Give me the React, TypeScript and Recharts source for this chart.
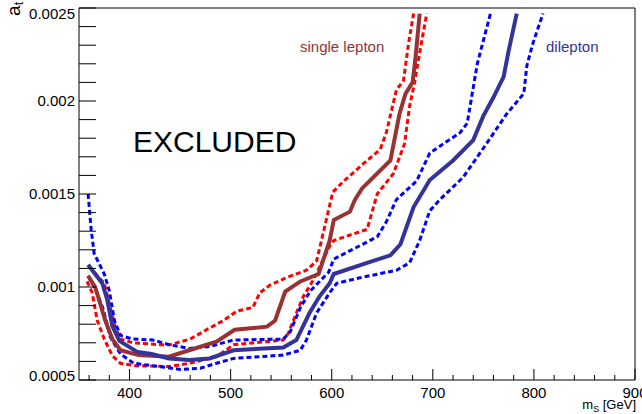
import { LineChart, Line, XAxis, YAxis, ReferenceArea } from "recharts";

// limit curves: [m_S (GeV), a_t]
const singleLeptonObs = [
  [359, 0.00106], [366, 0.001], [371, 0.00091], [376, 0.00082], [383, 0.00072], [391, 0.00066],
  [409, 0.000634], [439, 0.000625], [459, 0.00066], [486, 0.000706], [504, 0.00077], [536, 0.000787],
  [544, 0.00082], [554, 0.000975], [569, 0.00103], [587, 0.00107], [598, 0.00125], [602, 0.00136],
  [618, 0.001405], [623, 0.00147], [630, 0.00153], [658, 0.00168], [667, 0.00193], [673, 0.00204],
  [680, 0.0021], [683, 0.00224], [687, 0.00247],
];
const singleLeptonUp = [
  [360, 0.00111], [375, 0.00102], [381, 0.00089], [386, 0.00078], [391, 0.00072], [403, 0.0007],
  [430, 0.00069], [440, 0.00069], [460, 0.00072], [476, 0.00077], [493, 0.00082], [506, 0.00087],
  [522, 0.00089], [529, 0.00097], [539, 0.00101], [555, 0.00105], [575, 0.00109], [585, 0.00114],
  [592, 0.0013], [601, 0.00151], [612, 0.00157], [635, 0.00168], [648, 0.00174], [654, 0.00183],
  [664, 0.00206], [671, 0.00211], [676, 0.00231], [681, 0.00247],
];
const singleLeptonDown = [
  [358, 0.00103], [363, 0.00097], [368, 0.00082], [375, 0.00072], [383, 0.00063], [391, 0.00059],
  [406, 0.000577], [439, 0.000572], [459, 0.00059], [486, 0.000625], [503, 0.00069], [536, 0.000706],
  [552, 0.000715], [557, 0.00075], [565, 0.00086], [572, 0.00095], [582, 0.00104], [598, 0.00122],
  [602, 0.00125], [635, 0.00131], [645, 0.0015], [661, 0.00161], [672, 0.00177], [677, 0.00197],
  [682, 0.0021], [687, 0.00226], [694, 0.00247],
];
const dileptonObs = [
  [359, 0.00112], [373, 0.00102], [378, 0.00093], [383, 0.00079], [390, 0.00071], [408, 0.00065],
  [422, 0.00064], [439, 0.000616], [459, 0.000608], [479, 0.000616], [503, 0.00066], [552, 0.000675],
  [565, 0.000715], [578, 0.00086], [588, 0.00095], [598, 0.00102], [602, 0.00107], [635, 0.00113],
  [658, 0.00117], [668, 0.00123], [681, 0.00143], [697, 0.001575], [720, 0.00168], [740, 0.00179],
  [750, 0.00192], [760, 0.00202], [770, 0.00213], [775, 0.00227], [783, 0.00247],
];
const dileptonUp = [
  [359, 0.0015], [362, 0.00131], [365, 0.00118], [375, 0.00107], [380, 0.00098], [385, 0.00082],
  [391, 0.00074], [403, 0.00072], [423, 0.000715], [439, 0.00069], [459, 0.00067], [479, 0.00068],
  [503, 0.000715], [552, 0.00072], [559, 0.00076], [569, 0.00089], [579, 0.00098], [597, 0.00108],
  [602, 0.00115], [645, 0.00127], [654, 0.00135], [664, 0.00147], [684, 0.00157], [697, 0.00172],
  [727, 0.00183], [734, 0.00188], [744, 0.0022], [757, 0.00247],
];
const dileptonDown = [
  [359, 0.00106], [367, 0.00098], [374, 0.00088], [381, 0.00073], [391, 0.00064], [404, 0.00059],
  [430, 0.000572], [450, 0.000557], [470, 0.000563], [486, 0.00059], [503, 0.000616], [552, 0.000634],
  [569, 0.00066], [575, 0.000715], [585, 0.00086], [598, 0.00097], [605, 0.00102], [628, 0.00105],
  [664, 0.00109], [677, 0.00113], [687, 0.00125], [697, 0.00141], [707, 0.00147], [730, 0.00159],
  [753, 0.00177], [773, 0.00193], [790, 0.00204], [793, 0.00219], [799, 0.00231], [809, 0.00247],
];

const xTicks = [
  360, 380, 400, 420, 440, 460, 480, 500, 520, 540, 560, 580, 600, 620, 640, 660, 680, 700,
  720, 740, 760, 780, 800, 820, 840, 860, 880, 900,
];
const xLabels = [400, 500, 600, 700, 800, 900];
const yTicks = [
  0.0005, 0.0006, 0.0007, 0.0008, 0.0009, 0.001, 0.0011, 0.0012, 0.0013, 0.0014, 0.0015,
  0.0016, 0.0017, 0.0018, 0.0019, 0.002, 0.0021, 0.0022, 0.0023, 0.0024, 0.0025,
];
const yLabels = ["0.0005", "0.001", "0.0015", "0.002", "0.0025"];

const FONT = "'Liberation Sans', Arial, Helvetica, sans-serif";
const BROWN = "#993333";
const NAVY = "#333399";

const toPoints = (arr: number[][]) => arr.map(([x, y]) => ({ x, y }));

// eslint-disable-next-line @typescript-eslint/no-explicit-any
function XTick({ x, y, payload }: any) {
  const v = payload.value;
  const major = xLabels.includes(v);
  return (
    <g>
      <line x1={x} x2={x} y1={y} y2={y - (major ? 11 : 5)} stroke="#000" strokeWidth={1} />
      {major && (
        <text x={x} y={y + 18} textAnchor="middle" fontSize={15} fontFamily={FONT} fill="#000">
          {v}
        </text>
      )}
    </g>
  );
}

// eslint-disable-next-line @typescript-eslint/no-explicit-any
function YTick({ x, y, payload }: any) {
  const label = String(Number(Number(payload.value).toFixed(4)));
  const major = yLabels.includes(label);
  const ty = Math.min(Math.max(y, 14), 376);
  return (
    <g>
      <line x1={x} x2={x + 17} y1={y} y2={y} stroke="#000" strokeWidth={1} />
      {major && (
        <text x={x - 4} y={ty + 5} textAnchor="end" fontSize={15} fontFamily={FONT} fill="#000">
          {label}
        </text>
      )}
    </g>
  );
}

export default function App() {
  const dashed = { strokeWidth: 3, strokeDasharray: "5 3", dot: false, activeDot: false, isAnimationActive: false };
  const solid = { strokeWidth: 4, dot: false, activeDot: false, isAnimationActive: false };
  return (
    <div style={{ position: "relative", width: 642, height: 414 }}>
      <style>{`body{margin:0;}`}</style>
      <LineChart width={642} height={414} margin={{ top: 8, right: 7, bottom: 0, left: 0 }}>
        <XAxis
          dataKey="x"
          type="number"
          domain={[350, 900]}
          ticks={xTicks}
          interval={0}
          height={34}
          tickSize={0}
          tickMargin={0}
          axisLine={false}
          tick={<XTick />}
          allowDataOverflow
        />
        <YAxis
          type="number"
          domain={[0.0005, 0.0025]}
          ticks={yTicks}
          interval={0}
          width={79}
          tickSize={0}
          tickMargin={0}
          axisLine={false}
          tick={<YTick />}
          allowDataOverflow
        />
        <ReferenceArea x1={350} x2={900} y1={0.0005} y2={0.0025} fill="none" stroke="#000" strokeWidth={1} />
        <Line data={toPoints(singleLeptonUp)} dataKey="y" stroke="#ff0000" {...dashed} />
        <Line data={toPoints(singleLeptonDown)} dataKey="y" stroke="#ff0000" {...dashed} />
        <Line data={toPoints(dileptonUp)} dataKey="y" stroke="#0000ff" {...dashed} />
        <Line data={toPoints(dileptonDown)} dataKey="y" stroke="#0000ff" {...dashed} />
        <Line data={toPoints(singleLeptonObs)} dataKey="y" stroke={BROWN} {...solid} />
        <Line data={toPoints(dileptonObs)} dataKey="y" stroke={NAVY} {...solid} />
      </LineChart>
      <svg width={642} height={414} style={{ position: "absolute", left: 0, top: 0, pointerEvents: "none" }}>
        <text x={133} y={152} fontSize={30} fontFamily={FONT} fill="#000">EXCLUDED</text>
        <text x={300} y={52} fontSize={15} fontFamily={FONT} fill={BROWN}>single lepton</text>
        <text x={546} y={52} fontSize={15} fontFamily={FONT} fill={NAVY}>dilepton</text>
        <text x={636} y={409} textAnchor="end" fontSize={13} fontFamily={FONT} fill="#000">
          m<tspan fontSize={9} dy={3}>S</tspan>
          <tspan dy={-3}> [GeV]</tspan>
        </text>
        <text transform="translate(20,2) rotate(-90)" textAnchor="end" fontSize={19} fontFamily={FONT} fill="#000">
          a<tspan fontSize={12} dy={3}>t</tspan>
        </text>
      </svg>
    </div>
  );
}
